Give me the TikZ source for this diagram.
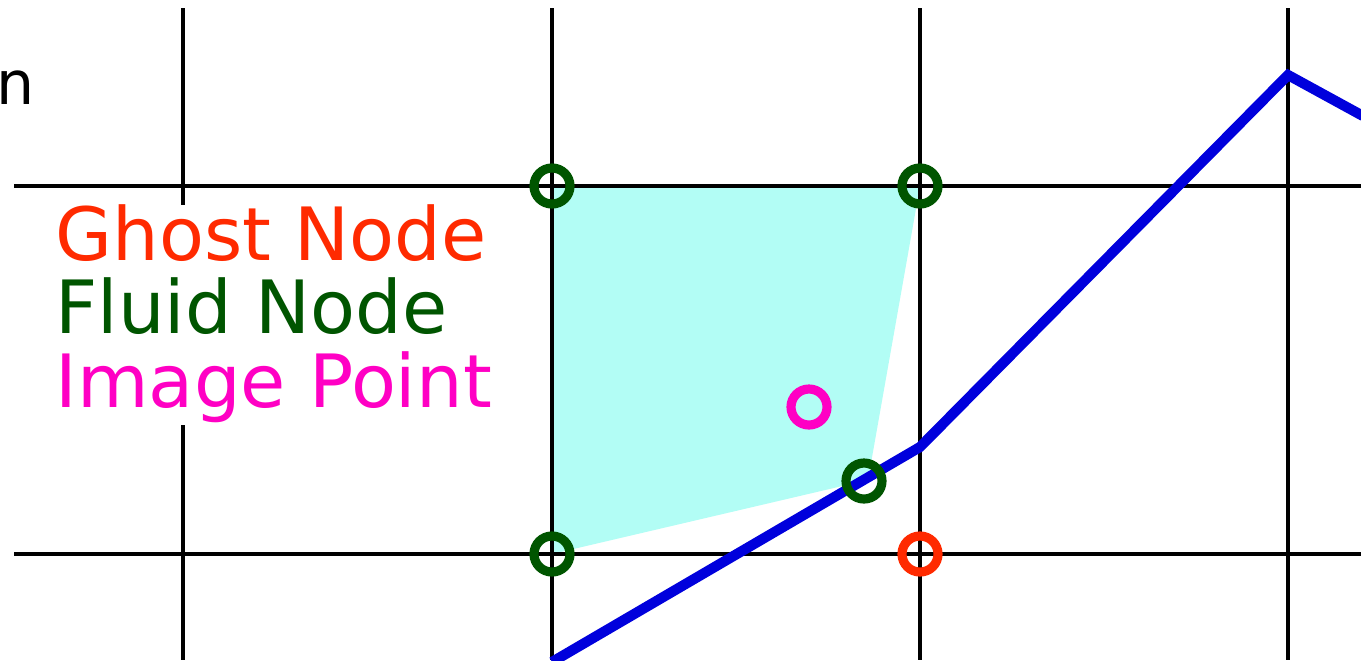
\documentclass[tikz,border=0pt]{standalone}
\usepackage{fontspec}
\setmainfont{DejaVu Sans}
\definecolor{cellfill}{HTML}{B2FDF5}
\definecolor{fluidgreen}{HTML}{005500}
\definecolor{ghostred}{HTML}{FF2A00}
\definecolor{imagemag}{HTML}{FF00C4}
\definecolor{wallblue}{HTML}{0000DC}
\tikzset{
  gridline/.style={draw=black, line width=0.9pt},
  wall/.style={draw=wallblue, line width=2.9pt, line join=miter},
  marker/.style={circle, draw=#1, line width=2.6pt, minimum size=0.36cm, inner sep=0pt},
  legendtxt/.style={anchor=base west, inner sep=0pt, font=\fontsize{20.9}{20.9}\selectfont, text=#1},
}
\begin{document}
\begin{tikzpicture}[x=0.01cm, y=-0.01cm]
\useasboundingbox (0,0) rectangle (1361,660);
% cell fill
\fill[cellfill] (552,186) -- (920,186) -- (868,480) -- (552,554) -- cycle;
% grid
\foreach \gx in {183,552,920,1288} {
  \draw[gridline] (\gx,8) -- (\gx,660);
}
\foreach \gy in {186,554} {
  \draw[gridline] (14,\gy) -- (1361,\gy);
}
% wall
\coordinate (w0) at (552,662);
\coordinate (w1) at (920,447);
\coordinate (w2) at (1288,75);
\coordinate (w3) at (1363,116);
\draw[wall] (w0) -- (w1) -- (w2) -- (w3);
% legend
\fill[white] (40,205) rectangle (500,425);
\node[legendtxt=ghostred] (ghostlbl) at (55,260) {Ghost Node};
\node[legendtxt=fluidgreen] (fluidlbl) at (55,333) {Fluid Node};
\node[legendtxt=imagemag] (imagelbl) at (55,407) {Image Point};
\node[anchor=base east, inner sep=0pt, font=\fontsize{17.1}{17.1}\selectfont] (cut) at (35,104) {n};
% markers
\node[marker=fluidgreen] (f1) at (552,186) {};
\node[marker=fluidgreen] (f2) at (920,186) {};
\node[marker=fluidgreen] (f3) at (552,554) {};
\node[marker=fluidgreen] (f4) at (864,481) {};
\node[marker=ghostred] (g1) at (920,554) {};
\node[marker=imagemag] (ip) at (809,407) {};
\end{tikzpicture}
\end{document}
